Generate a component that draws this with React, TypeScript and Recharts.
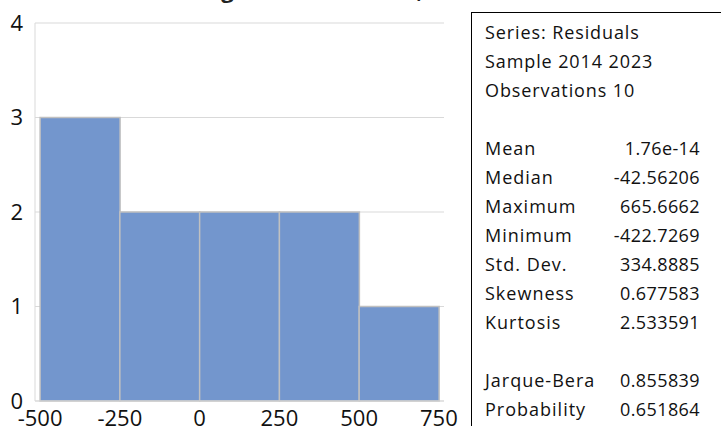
import React from 'react';
import { ComposedChart, Bar, XAxis, YAxis, CartesianGrid } from 'recharts';

// histogram bins (centre of each 250-wide bin) and counts
const binCenters = [-375, -125, 125, 375, 625];
const binCounts = [3, 2, 2, 2, 1];
const xTicks = [-500, -250, 0, 250, 500, 750];
const yTicks = [0, 1, 2, 3, 4];

const headerLines = ['Series: Residuals', 'Sample 2014 2023', 'Observations 10'];
const statLabels = ['Mean', 'Median', 'Maximum', 'Minimum', 'Std. Dev.', 'Skewness', 'Kurtosis'];
const statValues = ['1.76e-14', '-42.56206', '665.6662', '-422.7269', '334.8885', '0.677583', '2.533591'];
const testLabels = ['Jarque-Bera', 'Probability'];
const testValues = ['0.855839', '0.651864'];

const data = binCenters.map((x, i) => ({ x, count: binCounts[i] }));

const font = '"Open Sans", "Noto Sans", sans-serif';
const rowH = 29;

const App: React.FC = () => {
  return (
    <div style={{ position: 'absolute', left: 0, top: 0, width: 721, height: 426, overflow: 'hidden', background: '#fff', fontFamily: font }}>
      {/* title, mostly cut off at the top in the original */}
      <div style={{ position: 'absolute', left: 60, width: 580, top: -26, textAlign: 'center', fontWeight: 700, fontSize: 22, color: '#222' }}>
        Histogram of Residuals, 2014-2023
      </div>

      <div style={{ position: 'absolute', left: 0, top: 0 }}>
        <ComposedChart
          width={460}
          height={426}
          data={data}
          margin={{ top: 23, right: 16, bottom: 0, left: 0 }}
          barCategoryGap={0}
          barGap={0}
        >
          <CartesianGrid vertical={false} stroke="#d9d9d9" />
          <XAxis
            dataKey="x"
            type="number"
            domain={[-516, 766]}
            ticks={xTicks}
            allowDataOverflow
            height={25}
            tickLine={false}
            tickSize={0}
            tickMargin={9}
            stroke="#d9d9d9"
            tick={{ fill: '#111', fontSize: 22, fontFamily: font }}
          />
          <YAxis
            type="number"
            domain={[0, 4]}
            ticks={yTicks}
            width={35}
            tickLine={false}
            tickSize={0}
            tickMargin={12}
            stroke="#d9d9d9"
            tick={{ fill: '#111', fontSize: 22, fontFamily: font }}
          />
          <Bar dataKey="count" fill="#7396cd" stroke="#c0c0c0" strokeWidth={1.5} isAnimationActive={false} />
        </ComposedChart>
      </div>

      {/* statistics box */}
      <div style={{ position: 'absolute', left: 471, top: 12, width: 260, height: 430, borderLeft: '1.5px solid #000', borderTop: '1.5px solid #000', fontSize: 18, color: '#111' }}>
        {headerLines.map((t, i) => (
          <div key={t} style={{ position: 'absolute', left: 13, top: 7 + i * rowH, whiteSpace: 'nowrap', letterSpacing: 0.9 }}>{t}</div>
        ))}
        {statLabels.map((t, i) => (
          <React.Fragment key={t}>
            <div style={{ position: 'absolute', left: 13, top: 123 + i * rowH, letterSpacing: 1 }}>{t}</div>
            <div style={{ position: 'absolute', right: 32, top: 123 + i * rowH, letterSpacing: 0.4 }}>{statValues[i]}</div>
          </React.Fragment>
        ))}
        {testLabels.map((t, i) => (
          <React.Fragment key={t}>
            <div style={{ position: 'absolute', left: 13, top: 355 + i * rowH, letterSpacing: 1 }}>{t}</div>
            <div style={{ position: 'absolute', right: 32, top: 355 + i * rowH, letterSpacing: 0.4 }}>{testValues[i]}</div>
          </React.Fragment>
        ))}
      </div>
    </div>
  );
};

export default App;
